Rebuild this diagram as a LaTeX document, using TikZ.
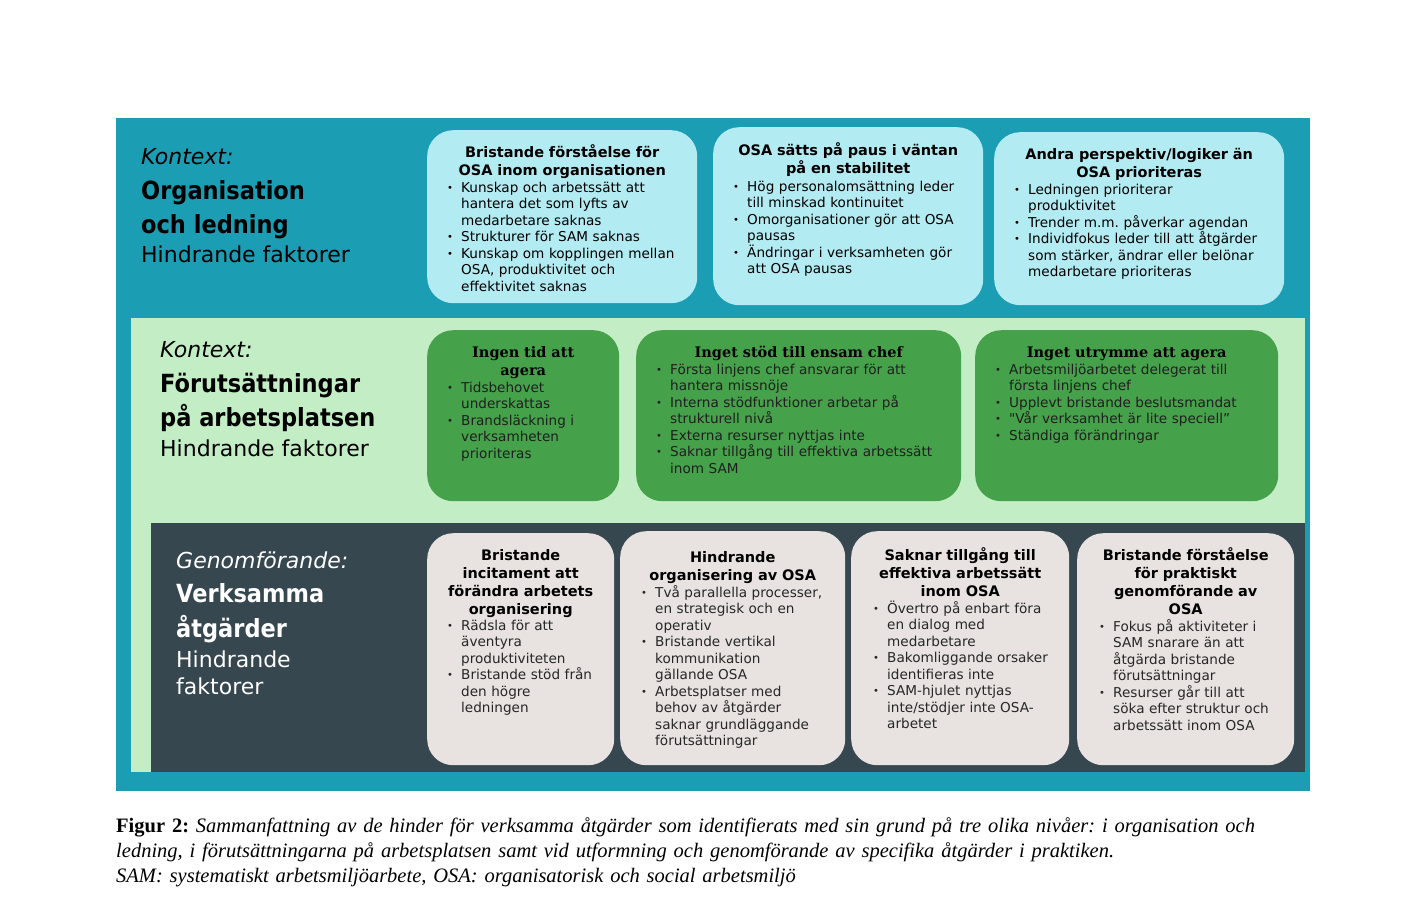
\documentclass[tikz,border=0pt]{standalone}
\usepackage{fontspec}
\setmainfont{DejaVu Sans}
\newfontfamily\condfont{DejaVu Sans Condensed}
\newfontfamily\serifhead{DejaVu Serif}
\newfontfamily\capfont{Liberation Serif}
\usetikzlibrary{positioning}
\frenchspacing

\definecolor{tealbg}{HTML}{1B9DB3}
\definecolor{mintbg}{HTML}{C3EDC5}
\definecolor{slatebg}{HTML}{37474F}
\definecolor{cardcyan}{HTML}{B3EBF2}
\definecolor{cardgreen}{HTML}{45A14A}
\definecolor{cardgrey}{HTML}{E8E3E1}

\newcommand{\bulpt}{\makebox[14pt][l]{\raisebox{0.6pt}{\fontsize{10}{10}\selectfont\textbullet}}}
\newcommand{\bulin}{\hspace*{14pt}}

\begin{document}
\begin{tikzpicture}[x=1pt,y=-1pt,
  card/.style={rounded corners=26pt,inner sep=0pt,anchor=north west},
  orgcard/.style={card,fill=cardcyan},
  midcard/.style={card,fill=cardgreen},
  impcard/.style={card,fill=cardgrey},
  head/.style={anchor=base,inner sep=0pt,align=center,text width=300pt,
    font=\bfseries\fontsize{14.5}{18}\selectfont},
  serifcap/.style={head,font=\serifhead\bfseries\fontsize{14.5}{18}\selectfont},
  body/.style={anchor=base west,inner sep=0pt,align=left,text width=300pt,
    font=\fontsize{13.6}{16.5}\selectfont},
  ctx/.style={anchor=base west,inner sep=0pt,font=\itshape\fontsize{22}{22}\selectfont},
  level/.style={anchor=base west,inner sep=0pt,font=\condfont\bfseries\fontsize{25}{25}\selectfont},
  hind/.style={anchor=base west,inner sep=0pt,font=\fontsize{22}{22}\selectfont}]
  \useasboundingbox (0,0) rectangle (1420,910);
  % bands
  \fill[tealbg] (116,118) rectangle (1310,791);
  \fill[mintbg] (131,318) rectangle (1305,772);
  \fill[slatebg] (151,523) rectangle (1305,772);

  % organisation och ledning
  \node[ctx] (ctxA) at (141,164) {Kontext:};
  \node[level] (lvlA1) at (141,199) {Organisation};
  \node[level] (lvlA2) at (141,233) {och ledning};
  \node[hind] (hindA) at (141,262) {Hindrande faktorer};

  \node[orgcard,minimum width=270pt,minimum height=173pt] (orgA) at (427,130) {};
  \node[head] (orgAhead) at ([yshift=-27pt]orgA.north) {Bristande förståelse för\\OSA inom organisationen};
  \node[body] (orgAbody) at ([xshift=20pt,yshift=-62pt]orgA.north west) {\bulpt Kunskap och arbetssätt att\\
    \bulin hantera det som lyfts av\\ \bulin medarbetare saknas\\ \bulpt Strukturer för SAM saknas\\
    \bulpt Kunskap om kopplingen mellan\\ \bulin OSA, produktivitet och\\ \bulin effektivitet saknas};

  \node[orgcard,minimum width=270pt,minimum height=178pt] (orgB) at (713,127) {};
  \node[head] (orgBhead) at ([yshift=-28pt]orgB.north) {OSA sätts på paus i väntan\\på en stabilitet};
  \node[body] (orgBbody) at ([xshift=20pt,yshift=-64pt]orgB.north west) {\bulpt Hög personalomsättning leder\\
    \bulin till minskad kontinuitet\\ \bulpt Omorganisationer gör att OSA\\ \bulin pausas\\
    \bulpt Ändringar i verksamheten gör\\ \bulin att OSA pausas};

  \node[orgcard,minimum width=290pt,minimum height=173pt] (orgC) at (994,132) {};
  \node[head] (orgChead) at ([yshift=-27pt]orgC.north) {Andra perspektiv/logiker än\\OSA prioriteras};
  \node[body] (orgCbody) at ([xshift=20pt,yshift=-62pt]orgC.north west) {\bulpt Ledningen prioriterar\\
    \bulin produktivitet\\ \bulpt Trender m.m. påverkar agendan\\ \bulpt Individfokus leder till att åtgärder\\
    \bulin som stärker, ändrar eller belönar\\ \bulin medarbetare prioriteras};

  % förutsättningar på arbetsplatsen
  \node[ctx] (ctxB) at (160,357) {Kontext:};
  \node[level] (lvlB1) at (160,392) {Förutsättningar};
  \node[level] (lvlB2) at (160,426) {på arbetsplatsen};
  \node[hind] (hindB) at (160,456) {Hindrande faktorer};

  \node[midcard,minimum width=192pt,minimum height=171pt] (midA) at (427,330) {};
  \node[serifcap] (midAhead) at ([yshift=-27pt]midA.north) {Ingen tid att\\agera};
  \node[body,text=black!88] (midAbody) at ([xshift=20pt,yshift=-62pt]midA.north west) {\bulpt Tidsbehovet\\
    \bulin underskattas\\ \bulpt Brandsläckning i\\ \bulin verksamheten\\ \bulin prioriteras};

  \node[midcard,minimum width=325pt,minimum height=171pt] (midB) at (636,330) {};
  \node[serifcap] (midBhead) at ([yshift=-27pt]midB.north) {Inget stöd till ensam chef};
  \node[body,text=black!88] (midBbody) at ([xshift=20pt,yshift=-44pt]midB.north west) {\bulpt Första linjens chef ansvarar för att\\
    \bulin hantera missnöje\\ \bulpt Interna stödfunktioner arbetar på\\ \bulin strukturell nivå\\
    \bulpt Externa resurser nyttjas inte\\ \bulpt Saknar tillgång till effektiva arbetssätt\\ \bulin inom SAM};

  \node[midcard,minimum width=303pt,minimum height=171pt] (midC) at (975,330) {};
  \node[serifcap] (midChead) at ([yshift=-27pt]midC.north) {Inget utrymme att agera};
  \node[body,text=black!88] (midCbody) at ([xshift=20pt,yshift=-44pt]midC.north west) {\bulpt Arbetsmiljöarbetet delegerat till\\
    \bulin första linjens chef\\ \bulpt Upplevt bristande beslutsmandat\\
    \bulpt \textquotedbl Vår verksamhet är lite speciell”\\ \bulpt Ständiga förändringar};

  % verksamma åtgärder
  \node[ctx,text=white] (ctxC) at (176,568) {Genomförande:};
  \node[level,text=white] (lvlC1) at (176,602) {Verksamma};
  \node[level,text=white] (lvlC2) at (176,637) {åtgärder};
  \node[hind,text=white] (hindC1) at (176,667) {Hindrande};
  \node[hind,text=white] (hindC2) at (176,694) {faktorer};

  \node[impcard,minimum width=187pt,minimum height=232pt] (impA) at (427,533) {};
  \node[head] (impAhead) at ([yshift=-27pt]impA.north) {Bristande\\incitament att\\förändra arbetets\\organisering};
  \node[body,text=black!85] (impAbody) at ([xshift=20pt,yshift=-97pt]impA.north west) {\bulpt Rädsla för att\\
    \bulin äventyra\\ \bulin produktiviteten\\ \bulpt Bristande stöd från\\ \bulin den högre\\ \bulin ledningen};

  \node[impcard,minimum width=225pt,minimum height=234pt] (impB) at (620,531) {};
  \node[head] (impBhead) at ([yshift=-31pt]impB.north) {Hindrande\\organisering av OSA};
  \node[body,text=black!85] (impBbody) at ([xshift=21pt,yshift=-66pt]impB.north west) {\bulpt Två parallella processer,\\
    \bulin en strategisk och en\\ \bulin operativ\\ \bulpt Bristande vertikal\\ \bulin kommunikation\\
    \bulin gällande OSA\\ \bulpt Arbetsplatser med\\ \bulin behov av åtgärder\\ \bulin saknar grundläggande\\
    \bulin förutsättningar};

  \node[impcard,minimum width=218pt,minimum height=234pt] (impC) at (851,531) {};
  \node[head] (impChead) at ([yshift=-29pt]impC.north) {Saknar tillgång till\\effektiva arbetssätt\\inom OSA};
  \node[body,text=black!85] (impCbody) at ([xshift=22pt,yshift=-82pt]impC.north west) {\bulpt Övertro på enbart föra\\
    \bulin en dialog med\\ \bulin medarbetare\\ \bulpt Bakomliggande orsaker\\ \bulin identifieras inte\\
    \bulpt SAM-hjulet nyttjas\\ \bulin inte/stödjer inte OSA-\\ \bulin arbetet};

  \node[impcard,minimum width=217pt,minimum height=232pt] (impD) at (1077,533) {};
  \node[head] (impDhead) at ([yshift=-27pt]impD.north) {Bristande förståelse\\för praktiskt\\genomförande av\\OSA};
  \node[body,text=black!85] (impDbody) at ([xshift=22pt,yshift=-98pt]impD.north west) {\bulpt Fokus på aktiviteter i\\
    \bulin SAM snarare än att\\ \bulin åtgärda bristande\\ \bulin förutsättningar\\
    \bulpt Resurser går till att\\ \bulin söka efter struktur och\\ \bulin arbetssätt inom OSA};

  % caption
  \node[anchor=base west,inner sep=0pt,align=left,text width=1290pt,
    font=\capfont\fontsize{20.5}{25}\selectfont] (caption) at (116,832)
    {\textbf{Figur 2:} \textit{Sammanfattning av de hinder för verksamma åtgärder som identifierats med sin grund på tre olika nivåer: i organisation och}\\
     \textit{ledning, i förutsättningarna på arbetsplatsen samt vid utformning och genomförande av specifika åtgärder i praktiken.}\\
     \textit{SAM: systematiskt arbetsmiljöarbete, OSA: organisatorisk och social arbetsmiljö}};
\end{tikzpicture}
\end{document}
